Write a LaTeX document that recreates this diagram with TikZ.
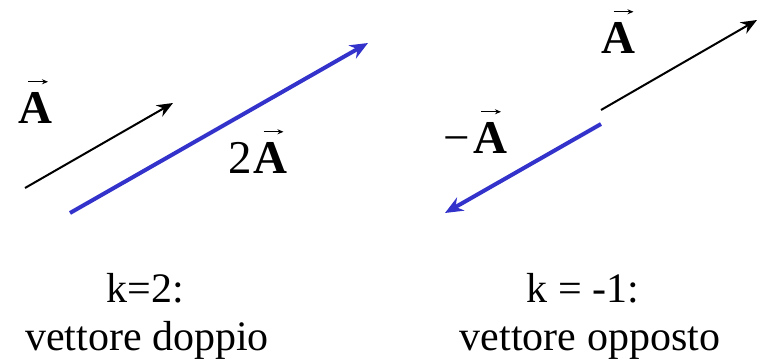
\documentclass[tikz,border=0pt]{standalone}
\usepackage{fontspec}
\newfontfamily\tnr{Liberation Serif}
\usetikzlibrary{arrows.meta}
\definecolor{vblue}{RGB}{51,51,204}
\tikzset{
  vecblack/.style={draw=black, line width=2pt, -{Stealth[length=16pt,width=13pt]}},
  vecblue/.style={draw=vblue, line width=4pt, -{Stealth[length=18pt,width=15pt]}},
  symbox/.style={inner sep=0pt, anchor=base, font=\tnr\fontsize{47}{56}\selectfont\bfseries},
  numbox/.style={inner sep=0pt, font=\tnr\fontsize{47}{56}\selectfont},
  capbox/.style={inner sep=0pt, anchor=base, font=\tnr\fontsize{42}{48}\selectfont},
  overarrow/.style={draw=black, line width=1.1pt, -{Stealth[length=6pt,width=5pt]}}
}
\begin{document}
\begin{tikzpicture}[x=1pt,y=-1pt]
\useasboundingbox (0,0) rectangle (761,364);
\node[capbox] (k1) at (145,302) {k=2:};
\node[capbox] (c1) at (147,350) {vettore doppio};
\node[capbox] (k2) at (583,302) {k = -1:};
\node[capbox] (c2) at (590,350) {vettore opposto};
\node[symbox] (lA) at (35,123) {A};
\node[symbox] (dA) at (270.5,173) {A};
\node[numbox, anchor=base east] (two) at ([xshift=-1pt]dA.base west) {2};
\node[symbox] (rA) at (618.5,53) {A};
\node[symbox] (nA) at (490,153) {A};
\node[numbox, anchor=base east] (minus) at ([xshift=-3pt]nA.base west) {\char"2212};
\draw[overarrow] ([xshift=-7pt,yshift=10pt]lA.north) -- ([xshift=13pt,yshift=10pt]lA.north);
\draw[overarrow] ([xshift=-7pt,yshift=10pt]dA.north) -- ([xshift=13pt,yshift=10pt]dA.north);
\draw[overarrow] ([xshift=-5pt,yshift=10pt]rA.north) -- ([xshift=15pt,yshift=10pt]rA.north);
\draw[overarrow] ([xshift=-9pt,yshift=10pt]nA.north) -- ([xshift=11pt,yshift=10pt]nA.north);
\coordinate (a1s) at (25,188);  \coordinate (a1e) at (173,103);
\coordinate (b1s) at (70,213);  \coordinate (b1e) at (368,43);
\coordinate (a2s) at (601,110); \coordinate (a2e) at (757,20);
\coordinate (b2s) at (601,124); \coordinate (b2e) at (445,213);
\draw[vecblack] (a1s) -- (a1e);
\draw[vecblue]  (b1s) -- (b1e);
\draw[vecblack] (a2s) -- (a2e);
\draw[vecblue]  (b2s) -- (b2e);
\end{tikzpicture}
\end{document}
